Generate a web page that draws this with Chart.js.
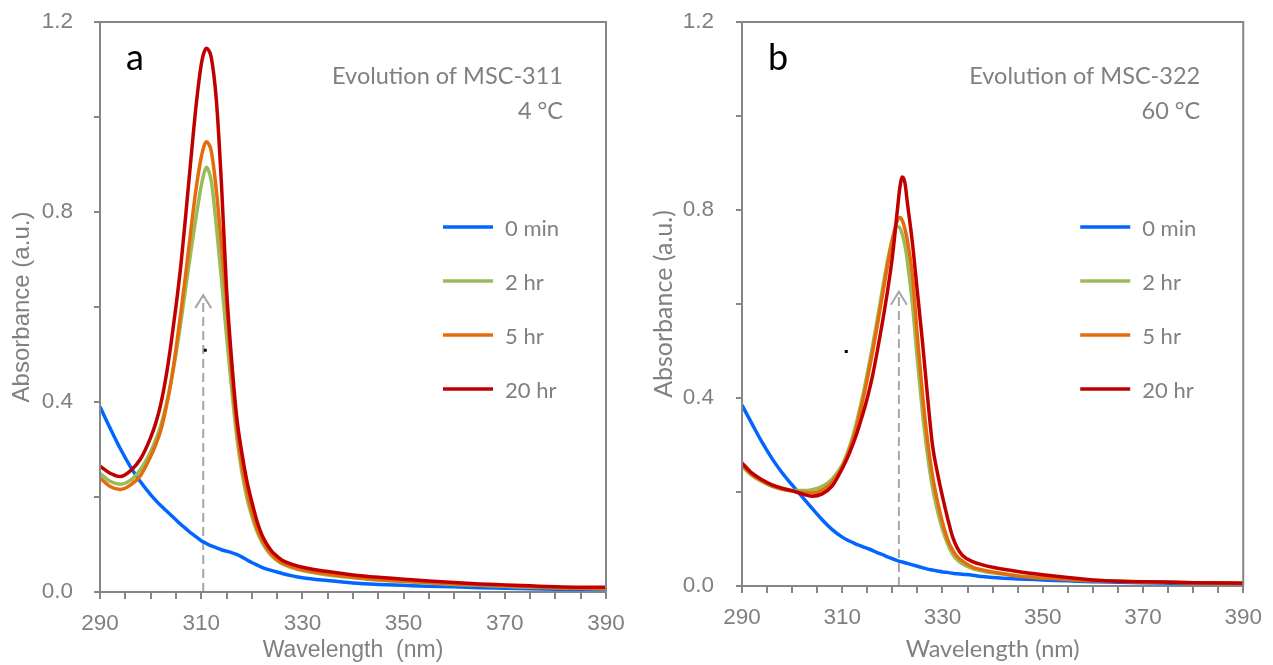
<!DOCTYPE html>
<html>
<head>
<meta charset="utf-8">
<script src="https://cdn.jsdelivr.net/npm/chart.js@4.4.1/dist/chart.umd.min.js"></script>
<style>
  html, body { margin: 0; padding: 0; background: #fff; }
  #wrap { position: relative; width: 1273px; height: 665px; }
  canvas { position: absolute; top: 0; }
  #chartA { left: 0; }
  #chartB { left: 636px; }
</style>
</head>
<body>
<div id="wrap">
  <canvas id="chartA" width="636" height="665"></canvas>
  <canvas id="chartB" width="637" height="665"></canvas>
</div>
<script>
// ---- data ----
const seriesLabels = ["0 min", "2 hr", "5 hr", "20 hr"];

// panel a : MSC-311, 4 °C
const wavelengthA = [290, 292, 294, 296, 298, 300, 301, 302, 303, 304, 305, 306, 307, 308, 309, 310, 310.5,
  311, 311.5, 312, 313, 314, 315, 316, 317, 318, 319, 320, 321, 322, 323, 324, 325, 326, 328, 330,
  335, 340, 345, 350, 355, 360, 365, 370, 375, 380, 385, 390];
const min0A = [0.39, 0.345, 0.302, 0.264, 0.232, 0.205, 0.193, 0.182, 0.172, 0.162, 0.152, 0.142, 0.133, 0.124, 0.116, 0.108, 0.105,
  0.102, 0.0995, 0.097, 0.093, 0.089, 0.086, 0.083, 0.079, 0.074, 0.068, 0.062, 0.057, 0.052, 0.048, 0.045, 0.042, 0.039, 0.034, 0.03,
  0.024, 0.019, 0.016, 0.014, 0.012, 0.011, 0.009, 0.008, 0.007, 0.006, 0.005, 0.005];
const hr2A = [0.25, 0.233, 0.227, 0.235, 0.258, 0.295, 0.32, 0.35, 0.39, 0.44, 0.50, 0.57, 0.645, 0.72, 0.79, 0.855, 0.879,
  0.894, 0.886, 0.865, 0.77, 0.66, 0.54, 0.43, 0.33, 0.255, 0.20, 0.16, 0.128, 0.105, 0.088, 0.075, 0.066, 0.059, 0.051, 0.045,
  0.036, 0.03, 0.025, 0.022, 0.019, 0.016, 0.014, 0.012, 0.01, 0.009, 0.008, 0.007];
const hr5A = [0.24, 0.222, 0.216, 0.225, 0.245, 0.285, 0.31, 0.34, 0.385, 0.44, 0.51, 0.59, 0.675, 0.765, 0.85, 0.915, 0.937,
  0.948, 0.943, 0.928, 0.845, 0.73, 0.61, 0.46, 0.35, 0.27, 0.215, 0.17, 0.135, 0.11, 0.092, 0.078, 0.068, 0.061, 0.053, 0.047,
  0.038, 0.031, 0.026, 0.023, 0.02, 0.017, 0.015, 0.013, 0.011, 0.009, 0.008, 0.008];
const hr20A = [0.265, 0.25, 0.243, 0.255, 0.28, 0.325, 0.355, 0.395, 0.45, 0.52, 0.60, 0.69, 0.80, 0.915, 1.025, 1.11, 1.134,
  1.145, 1.14, 1.125, 1.035, 0.86, 0.64, 0.49, 0.37, 0.295, 0.235, 0.19, 0.15, 0.12, 0.10, 0.085, 0.075, 0.067, 0.058, 0.052,
  0.043, 0.036, 0.031, 0.027, 0.023, 0.02, 0.017, 0.015, 0.013, 0.011, 0.01, 0.01];

// panel b : MSC-322, 60 °C
const wavelengthB = [290, 292, 294, 296, 298, 300, 302, 304, 306, 308, 310, 311, 312, 313, 314, 315, 316, 317, 318, 319,
  320, 321, 321.5, 322, 322.5, 323, 324, 325, 326, 327, 328, 329, 330, 331, 332, 333, 334, 336, 338, 340,
  345, 350, 355, 360, 365, 370, 380, 390];
const min0B = [0.385, 0.345, 0.306, 0.271, 0.241, 0.215, 0.19, 0.165, 0.141, 0.12, 0.104, 0.098, 0.093, 0.088, 0.084, 0.08, 0.076, 0.071, 0.067, 0.062,
  0.058, 0.054, 0.0525, 0.051, 0.0495, 0.048, 0.045, 0.042, 0.039, 0.036, 0.034, 0.032, 0.03, 0.029, 0.027, 0.026, 0.025, 0.023, 0.02, 0.018,
  0.015, 0.013, 0.011, 0.009, 0.008, 0.007, 0.005, 0.004];
const hr2B = [0.255, 0.235, 0.222, 0.212, 0.206, 0.203, 0.203, 0.205, 0.212, 0.228, 0.258, 0.283, 0.315, 0.355, 0.40, 0.452, 0.508, 0.568, 0.63, 0.69,
  0.738, 0.765, 0.762, 0.748, 0.725, 0.69, 0.60, 0.48, 0.37, 0.28, 0.21, 0.16, 0.12, 0.09, 0.068, 0.055, 0.047, 0.037, 0.032, 0.028,
  0.022, 0.018, 0.015, 0.012, 0.01, 0.009, 0.007, 0.006];
const hr5B = [0.258, 0.237, 0.224, 0.213, 0.206, 0.202, 0.199, 0.198, 0.204, 0.221, 0.253, 0.278, 0.308, 0.345, 0.39, 0.44, 0.495, 0.555, 0.617, 0.68,
  0.737, 0.778, 0.784, 0.777, 0.76, 0.735, 0.66, 0.53, 0.41, 0.31, 0.235, 0.18, 0.135, 0.10, 0.077, 0.062, 0.053, 0.04, 0.034, 0.03,
  0.021, 0.017, 0.014, 0.011, 0.01, 0.009, 0.007, 0.006];
const hr20B = [0.262, 0.24, 0.226, 0.215, 0.208, 0.203, 0.196, 0.191, 0.196, 0.213, 0.25, 0.272, 0.298, 0.328, 0.362, 0.40, 0.445, 0.50, 0.56, 0.625,
  0.70, 0.80, 0.848, 0.87, 0.858, 0.815, 0.73, 0.625, 0.52, 0.405, 0.30, 0.24, 0.19, 0.145, 0.105, 0.08, 0.065, 0.052, 0.045, 0.04,
  0.031, 0.024, 0.018, 0.013, 0.01, 0.009, 0.007, 0.006];

// axis ticks
const xLabelTicks = [290, 310, 330, 350, 370, 390];
const yLabelTicks = [0, 0.4, 0.8, 1.2];

// ---- styling ----
const COLORS = ["#0066ff", "#9bbb59", "#e46c0a", "#c00000"];
const GREY = "#868686";
const TEXT_GREY = "#808080";
const NUM_FONT = "'Liberation Sans', Arial, sans-serif";
const CAL_FONT = "Lato, 'Open Sans', sans-serif";

const buildDatasets = (wl, series) =>
  series.map((vals, i) => ({
    label: seriesLabels[i],
    data: wl.map((x, k) => ({ x: x, y: vals[k] })),
    borderColor: COLORS[i],
    borderWidth: 3.5,
    pointRadius: 0,
    cubicInterpolationMode: "monotone",
    order: series.length - i,
  }));

const panelDeco = {
  id: "panelDeco",
  beforeDatasetsDraw(chart, args, o) {
    const { ctx, scales } = chart;
    const ax = scales.x.getPixelForValue(o.arrow.x);
    const y0 = scales.y.getPixelForValue(0);
    const y1 = scales.y.getPixelForValue(o.arrow.y);
    ctx.save();
    ctx.strokeStyle = "#a6a6a6";
    ctx.lineWidth = 2;
    ctx.setLineDash([9, 5]);
    ctx.beginPath();
    ctx.moveTo(ax, y0);
    ctx.lineTo(ax, y1 + 2);
    ctx.stroke();
    ctx.setLineDash([]);
    ctx.beginPath();
    ctx.moveTo(ax - 8, y1 + 13);
    ctx.lineTo(ax, y1);
    ctx.lineTo(ax + 8, y1 + 13);
    ctx.stroke();
    ctx.restore();
  },
  afterDraw(chart, args, o) {
    const { ctx, chartArea: ca, scales } = chart;
    ctx.save();
    // frame
    ctx.strokeStyle = GREY;
    ctx.lineWidth = 2;
    ctx.strokeRect(ca.left, ca.top, ca.right - ca.left, ca.bottom - ca.top);

    // panel letter
    ctx.fillStyle = "#000";
    ctx.font = "36px " + CAL_FONT;
    ctx.textAlign = "left";
    ctx.textBaseline = "alphabetic";
    ctx.fillText(o.letter, ca.left + 26, ca.top + 48);

    // stray dot
    const dx = scales.x.getPixelForValue(o.dot.x);
    const dy = scales.y.getPixelForValue(o.dot.y);
    ctx.fillRect(dx - 1, dy - 1, 3, 3);

    // note
    ctx.fillStyle = TEXT_GREY;
    ctx.font = "23.5px " + CAL_FONT;
    ctx.textAlign = "right";
    o.note.forEach((t, i) => ctx.fillText(t, ca.right - 43, ca.top + 62 + i * 35));

    // legend
    ctx.font = "22px " + CAL_FONT;
    ctx.textAlign = "left";
    ctx.textBaseline = "middle";
    chart.data.datasets.forEach((ds, i) => {
      const yy = ca.top + 205 + i * 54;
      ctx.strokeStyle = ds.borderColor;
      ctx.lineWidth = 3.5;
      ctx.beginPath();
      ctx.moveTo(ca.right - 163, yy);
      ctx.lineTo(ca.right - 113, yy);
      ctx.stroke();
      ctx.fillText(ds.label, ca.right - 101, yy + 2);
    });
    ctx.restore();
  },
};

const makeOptions = (cfg) => ({
  responsive: false,
  devicePixelRatio: 1,
  animation: false,
  layout: { padding: { top: 22, right: cfg.padRight, left: 0, bottom: 0 } },
  plugins: {
    legend: { display: false },
    tooltip: { enabled: false },
    panelDeco: { letter: cfg.letter, note: cfg.note, arrow: cfg.arrow, dot: cfg.dot },
  },
  scales: {
    x: {
      type: "linear",
      min: 290,
      max: 390,
      afterFit: (s) => { s.height = cfg.xHeight; },
      ticks: {
        stepSize: 5,
        autoSkip: false,
        maxRotation: 0,
        padding: 11,
        color: TEXT_GREY,
        font: { family: NUM_FONT, size: 22.5 },
        callback: (v) => (xLabelTicks.includes(v) ? String(v) : ""),
      },
      grid: { drawOnChartArea: false, tickLength: 7, color: GREY, lineWidth: 2 },
      border: { color: GREY, width: 2 },
      title: {
        display: true,
        text: cfg.xTitle,
        color: TEXT_GREY,
        font: { family: cfg.titleFont, size: cfg.xTitleSize },
        padding: { top: 0, bottom: 1 },
      },
    },
    y: {
      min: 0,
      max: 1.2,
      afterFit: (s) => {
        s.width = cfg.yWidth;
        s.paddingTop = 12;
        s.paddingBottom = 0;
      },
      ticks: {
        stepSize: 0.2,
        padding: cfg.yPad,
        color: TEXT_GREY,
        font: { family: NUM_FONT, size: 22.5 },
        callback: (v) => {
          const r = Math.round(v * 10) / 10;
          return yLabelTicks.some((t) => Math.abs(t - r) < 1e-6) ? r.toFixed(1) : "";
        },
      },
      grid: { drawOnChartArea: false, tickLength: 6, color: GREY, lineWidth: 2 },
      border: { color: GREY, width: 2 },
      title: {
        display: true,
        text: "Absorbance (a.u.)",
        color: TEXT_GREY,
        font: { family: cfg.titleFont, size: cfg.yTitleSize },
        padding: { top: cfg.yTitlePad, bottom: 0 },
      },
    },
  },
});

const chartA = new Chart(document.querySelector("canvas#chartA").getContext("2d"), {
  type: "line",
  data: { datasets: buildDatasets(wavelengthA, [min0A, hr2A, hr5A, hr20A]) },
  options: makeOptions({
    letter: "a",
    note: ["Evolution of MSC-311", "4 \u00B0C"],
    arrow: { x: 310.4, y: 0.625 },
    dot: { x: 310.7, y: 0.51 },
    padRight: 30,
    xHeight: 73,
    yWidth: 100,
    yPad: 21,
    yTitlePad: 8,
    yTitleSize: 24,
    xTitleSize: 23,
    xTitle: "Wavelength  (nm)",
    titleFont: NUM_FONT,
  }),
  plugins: [panelDeco],
});

const chartB = new Chart(document.querySelector("canvas#chartB").getContext("2d"), {
  type: "line",
  data: { datasets: buildDatasets(wavelengthB, [min0B, hr2B, hr5B, hr20B]) },
  options: makeOptions({
    letter: "b",
    note: ["Evolution of MSC-322", "60 \u00B0C"],
    arrow: { x: 321.3, y: 0.626 },
    dot: { x: 310.7, y: 0.50 },
    padRight: 27,
    xHeight: 79,
    yWidth: 106,
    yPad: 22,
    yTitlePad: 13,
    yTitleSize: 25,
    xTitleSize: 23.5,
    xTitle: "Wavelength (nm)",
    titleFont: CAL_FONT,
  }),
  plugins: [panelDeco],
});
</script>
</body>
</html>
